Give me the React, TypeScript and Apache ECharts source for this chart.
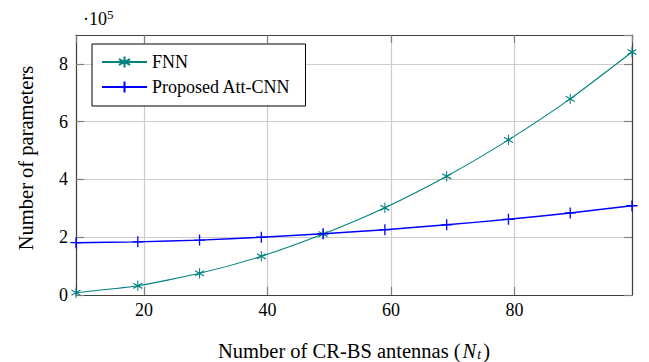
import React, { useEffect, useRef } from "react";
import * as echarts from "echarts";

const antennas = [9, 19, 29, 39, 49, 59, 69, 79, 89, 99];
const fnnParams = [0.08, 0.32, 0.75, 1.34, 2.11, 3.02, 4.11, 5.37, 6.79, 8.41];
const attCnnParams = [1.81, 1.84, 1.9, 2.0, 2.12, 2.26, 2.43, 2.62, 2.84, 3.09];
const seriesNames = ["FNN", "Proposed Att-CNN"];
const seriesColors = ["#008080", "#0000ff"];
const xRange = [9, 99];
const yRange = [0, 9];
const yInterval = 2;

const STAR = "path://M0 -5 L0 5 M-4.33 -2.5 L4.33 2.5 M-4.33 2.5 L4.33 -2.5";
const PLUS = "path://M0 -5 L0 5 M-5 0 L5 0";

const FONT = "Liberation Serif";

export default function App() {
  const ref = useRef<HTMLDivElement>(null);
  useEffect(() => {
    if (!ref.current) return;
    const chart = echarts.init(ref.current, undefined, { renderer: "svg" });
    const axisCommon = {
      axisLine: { show: true, onZero: false, lineStyle: { color: "#404040", width: 1.2 } },
      axisTick: { show: true, inside: true, length: 8, lineStyle: { color: "#808080", width: 1.2 } },
    };
    const xBase = { type: "value", min: xRange[0], max: xRange[1], splitNumber: 5 };
    const yBase = { type: "value", min: yRange[0], max: yRange[1], interval: yInterval };
    const labelStyle = {
      fontFamily: FONT,
      fontSize: 18,
      color: "#000",
    };
    chart.setOption({
      animation: false,
      textStyle: { fontFamily: FONT },
      grid: { left: 76, top: 35, width: 556, height: 260, containLabel: false },
      legend: {
        left: 92,
        top: 44,
        orient: "vertical",
        data: seriesNames,
        itemWidth: 45,
        itemHeight: 14,
        itemGap: 7,
        padding: [9, 15, 10, 9],
        borderColor: "#000",
        borderWidth: 1,
        backgroundColor: "#fff",
        textStyle: { fontFamily: FONT, fontSize: 18, color: "#000" },
      },
      xAxis: [
        {
          ...xBase,
          ...axisCommon,
          position: "bottom",
          axisLabel: {
            showMinLabel: false,
            showMaxLabel: false,
            margin: 6,
            ...labelStyle,
            textStyle: labelStyle,
          },
          splitLine: { show: true, lineStyle: { color: "#cccccc", width: 1.2 } },
        },
        {
          ...xBase,
          ...axisCommon,
          position: "top",
          axisLabel: { show: false },
          splitLine: { show: false },
        },
      ],
      yAxis: [
        {
          ...yBase,
          ...axisCommon,
          position: "left",
          axisLabel: {
            showMaxLabel: false,
            margin: 8,
            ...labelStyle,
            textStyle: labelStyle,
          },
          splitLine: { show: true, lineStyle: { color: "#cccccc", width: 1.2 } },
        },
        {
          ...yBase,
          ...axisCommon,
          position: "right",
          axisLabel: { show: false },
          splitLine: { show: false },
        },
      ],
      series: [
        {
          name: seriesNames[0],
          type: "line",
          xAxisIndex: 0,
          yAxisIndex: 0,
          data: antennas.map((x, i) => [x, fnnParams[i]]),
          smooth: 0.2,
          symbol: STAR,
          symbolSize: [9, 10.4],
          showAllSymbol: true,
          lineStyle: { color: seriesColors[0], width: 1.1 },
          itemStyle: { color: seriesColors[0], borderColor: seriesColors[0], borderWidth: 1.1 },
        },
        {
          name: seriesNames[1],
          type: "line",
          xAxisIndex: 0,
          yAxisIndex: 0,
          data: antennas.map((x, i) => [x, attCnnParams[i]]),
          smooth: 0.2,
          symbol: PLUS,
          symbolSize: 11,
          showAllSymbol: true,
          lineStyle: { color: seriesColors[1], width: 1.4 },
          itemStyle: { color: seriesColors[1], borderColor: seriesColors[1], borderWidth: 1.3 },
        },
      ],
      graphic: [
        {
          type: "text",
          left: 83,
          top: 8,
          style: {
            text: "{a|·10}{b|5}",
            rich: {
              a: { fontFamily: FONT, fontSize: 18, fill: "#000", verticalAlign: "bottom", lineHeight: 20 },
              b: { fontFamily: FONT, fontSize: 13, fill: "#000", verticalAlign: "top", lineHeight: 20, padding: [0, 0, 8, 0] },
            },
          },
        },
        {
          type: "text",
          x: 26,
          y: 158,
          rotation: Math.PI / 2,
          style: {
            text: "Number of parameters",
            fontFamily: FONT,
            fontSize: 20.5,
            fill: "#000",
            align: "center",
            verticalAlign: "middle",
          },
        },
        {
          type: "text",
          x: 354,
          y: 349,
          style: {
            text: "{a|Number of CR-BS antennas (}{i|N}{s|t}{a|)}",
            align: "center",
            verticalAlign: "middle",
            rich: {
              a: { fontFamily: FONT, fontSize: 20.5, fill: "#000", lineHeight: 24, verticalAlign: "bottom" },
              i: { fontFamily: FONT, fontSize: 20.5, fontStyle: "italic", fill: "#000", lineHeight: 24, verticalAlign: "bottom", padding: [0, 1, 0, 2] },
              s: { fontFamily: FONT, fontSize: 14, fontStyle: "italic", fill: "#000", lineHeight: 24, verticalAlign: "bottom", padding: [0, 2, 0, 0] },
            },
          },
        },
      ],
    });
    return () => chart.dispose();
  }, []);
  return (
    <div
      ref={ref}
      style={{ position: "fixed", left: 0, top: 0, width: 649, height: 362, background: "#fff" }}
    />
  );
}
